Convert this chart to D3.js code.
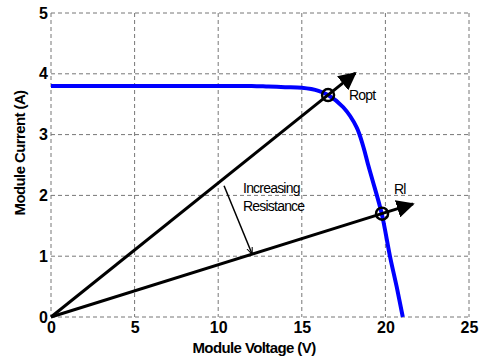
<!DOCTYPE html>
<html>
<head>
<meta charset="utf-8">
<script src="https://cdn.jsdelivr.net/npm/d3@7"></script>
<style>
  body { margin: 0; background: #fff; }
  svg { display: block; font-family: "Liberation Sans", Arial, sans-serif; }
  .tick text { font-weight: bold; font-size: 16px; fill: #000; }
  .grid line { stroke: #777; stroke-dasharray: 4,3; stroke-width: 1; }
</style>
</head>
<body>
<svg id="chart" width="481" height="361"></svg>
<script>
// I-V curve of the module
const voltage = [0, 5, 10, 12, 13, 14, 15, 16, 16.57, 17.48, 18.28, 18.68, 18.95, 19.23, 19.78, 20.28, 20.68, 21.04];
const current = [3.8, 3.8, 3.8, 3.8, 3.79, 3.78, 3.77, 3.72, 3.65, 3.45, 3.12, 2.80, 2.52, 2.25, 1.70, 0.99, 0.49, 0];

// load lines: [V, I] of operating point and arrow tip
const loadNames = ['Ropt', 'Rl'];
const loadPoints = [[16.57, 3.65], [19.8, 1.70]];
const loadTips = [[18.2, 4.01], [21.65, 1.86]];

// "increasing resistance" arrow
const incArrow = [[10.35, 2.16], [12.02, 1.04]];

const xTicks = [0, 5, 10, 15, 20, 25];
const yTicks = [0, 1, 2, 3, 4, 5];

const marginLeft = 51, marginTop = 13, plotW = 418, plotH = 304;

const svg = d3.select('#chart');
const defs = svg.append('defs');
defs.append('marker').attr('id', 'head')
  .attr('viewBox', '0 0 10 10').attr('refX', 9).attr('refY', 5)
  .attr('markerWidth', 6).attr('markerHeight', 6).attr('markerUnits', 'strokeWidth')
  .attr('orient', 'auto')
  .append('path').attr('d', 'M0,0 L10,5 L0,10 z').attr('fill', '#000');
defs.append('marker').attr('id', 'headThin')
  .attr('viewBox', '0 0 10 10').attr('refX', 9).attr('refY', 5)
  .attr('markerWidth', 7).attr('markerHeight', 7).attr('markerUnits', 'userSpaceOnUse')
  .attr('orient', 'auto')
  .append('path').attr('d', 'M0,1 L10,5 L0,9').attr('fill', 'none').attr('stroke', '#000').attr('stroke-width', 1.5);

const g = svg.append('g').attr('transform', `translate(${marginLeft},${marginTop})`);

const x = d3.scaleLinear().domain([0, 25]).range([0, plotW]);
const y = d3.scaleLinear().domain([0, 5]).range([plotH, 0]);

// grid
g.append('g').attr('class', 'grid')
  .selectAll('line.v').data(xTicks).enter().append('line')
  .attr('x1', d => x(d)).attr('x2', d => x(d)).attr('y1', 0).attr('y2', plotH);
g.append('g').attr('class', 'grid')
  .selectAll('line.h').data(yTicks).enter().append('line')
  .attr('x1', 0).attr('x2', plotW).attr('y1', d => y(d)).attr('y2', d => y(d));

// axes
const xAxis = g.append('g').attr('transform', `translate(0,${plotH})`)
  .call(d3.axisBottom(x).tickValues(xTicks).tickFormat(d3.format('d')).tickSize(0).tickPadding(5));
xAxis.select('.domain').remove();
const yAxis = g.append('g')
  .call(d3.axisLeft(y).tickValues(yTicks).tickFormat(d3.format('d')).tickSize(0).tickPadding(3));
yAxis.select('.domain').remove();

// axis titles
svg.append('text').attr('x', marginLeft + x(12.5) - 6).attr('y', 353)
  .attr('text-anchor', 'middle').attr('font-weight', 'bold').attr('font-size', 15)
  .attr('letter-spacing', -0.6).text('Module Voltage (V)');
svg.append('text').attr('transform', `translate(25,${marginTop + y(2.5) - 12}) rotate(-90)`)
  .attr('text-anchor', 'middle').attr('font-weight', 'bold').attr('font-size', 15)
  .attr('letter-spacing', -0.6).text('Module Current (A)');

// I-V curve
const ivData = voltage.map((v, i) => [v, current[i]]);
g.append('path').datum(ivData)
  .attr('d', d3.line().x(d => x(d[0])).y(d => y(d[1])).curve(d3.curveCatmullRom.alpha(0.5)))
  .attr('fill', 'none').attr('stroke', '#0000ff').attr('stroke-width', 4);

// load lines
loadTips.forEach(t => {
  g.append('line')
    .attr('x1', x(0)).attr('y1', y(0)).attr('x2', x(t[0])).attr('y2', y(t[1]))
    .attr('stroke', '#000').attr('stroke-width', 3).attr('marker-end', 'url(#head)');
});
g.selectAll('circle.op').data(loadPoints).enter().append('circle')
  .attr('cx', d => x(d[0])).attr('cy', d => y(d[1])).attr('r', 6)
  .attr('fill', 'none').attr('stroke', '#000').attr('stroke-width', 2.5);

// labels
g.append('text').attr('x', x(loadPoints[0][0]) + 21).attr('y', y(loadPoints[0][1]) + 5)
  .attr('font-size', 14).attr('letter-spacing', -0.8).text(loadNames[0]);
g.append('text').attr('x', x(loadPoints[1][0]) + 12).attr('y', y(loadPoints[1][1]) - 20)
  .attr('font-size', 14).attr('letter-spacing', -0.8).text(loadNames[1]);

// increasing resistance arrow
g.append('line')
  .attr('x1', x(incArrow[0][0])).attr('y1', y(incArrow[0][1]))
  .attr('x2', x(incArrow[1][0])).attr('y2', y(incArrow[1][1]))
  .attr('stroke', '#000').attr('stroke-width', 1.5).attr('marker-end', 'url(#headThin)');
const tx = x(incArrow[0][0]) + 19;
g.append('text').attr('x', tx).attr('y', y(incArrow[0][1]) + 7)
  .attr('font-size', 14).attr('letter-spacing', -0.8).text('Increasing');
g.append('text').attr('x', tx).attr('y', y(incArrow[0][1]) + 25)
  .attr('font-size', 14).attr('letter-spacing', -0.8).text('Resistance');
</script>
</body>
</html>
